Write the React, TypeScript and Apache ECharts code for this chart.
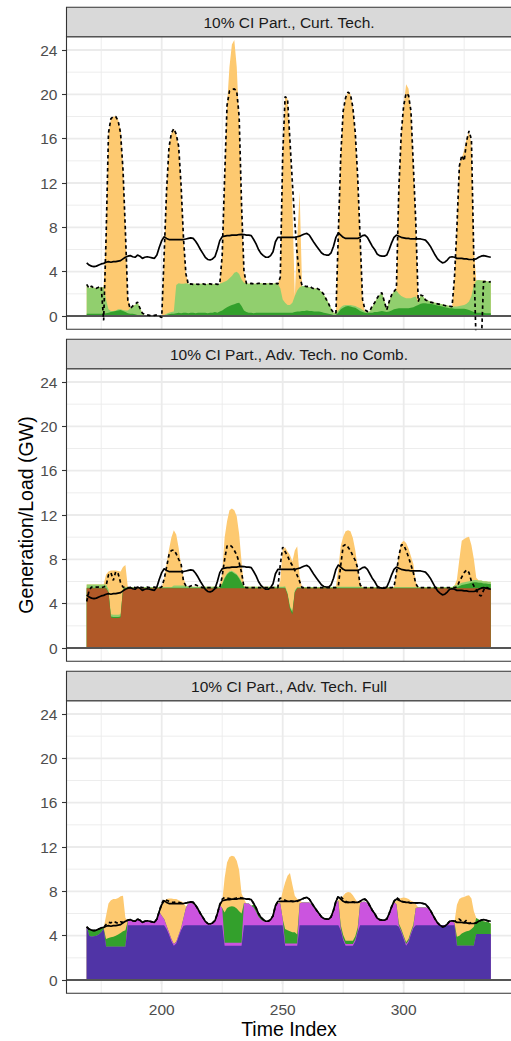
import React, { useEffect, useRef } from "react";
import * as echarts from "echarts";

// Time index: hourly steps 169..336 (one week)
const hours: number[] = Array.from({ length: 168 }, (_, i) => 169 + i);

// System load (GW), shared by all three scenarios
const load = [
  4.8, 4.6, 4.5, 4.45, 4.5, 4.6, 4.7, 4.75, 4.85, 4.9, 4.85, 4.9, 4.9, 4.95, 5.0, 5.15, 5.3, 5.4, 5.45, 5.35, 5.3, 5.5, 5.4, 5.2,
  5.3, 5.35, 5.3, 5.25, 5.2, 5.5, 6.2, 6.8, 7.15, 7.0, 6.9, 6.9, 6.9, 6.9, 6.9, 6.9, 6.9, 6.95, 7.0, 7.05, 7.0, 6.75, 6.4, 6.0,
  5.65, 5.3, 5.1, 5.05, 5.15, 5.35, 6.0, 6.8, 7.15, 7.2, 7.25, 7.25, 7.3, 7.3, 7.3, 7.35, 7.37, 7.35, 7.3, 7.3, 7.25, 6.9, 6.5, 6.0,
  5.65, 5.45, 5.3, 5.3, 5.45, 5.8, 6.7, 7.1, 7.1, 7.1, 7.1, 7.1, 7.1, 7.1, 7.1, 7.15, 7.2, 7.3, 7.4, 7.45, 7.3, 6.95, 6.6, 6.3,
  6.0, 5.7, 5.55, 5.5, 5.5, 5.7, 6.3, 7.1, 7.5, 7.3, 7.1, 7.0, 7.0, 7.0, 7.0, 7.0, 7.0, 7.1, 7.25, 7.3, 7.1, 6.7, 6.3, 6.0,
  5.6, 5.45, 5.4, 5.4, 5.5, 6.0, 6.6, 7.1, 7.3, 7.2, 7.1, 7.05, 7.0, 7.0, 6.95, 6.95, 6.95, 6.95, 6.95, 6.9, 6.85, 6.6, 6.3, 5.9,
  5.5, 5.15, 4.95, 4.8, 4.85, 5.05, 5.3, 5.35, 5.3, 5.2, 5.2, 5.2, 5.15, 5.15, 5.1, 5.1, 5.1, 5.15, 5.3, 5.4, 5.45, 5.4, 5.35, 5.3,
];

// ---- Scenario 1: Curt. Tech. ----
const curtHydro = [
  0.2, 0.2, 0.2, 0.2, 0.2, 0.2, 0.2, 0.2, 0.25, 0.3, 0.35, 0.4, 0.45, 0.5, 0.55, 0.45, 0.35, 0.25, 0.2, 0.2, 0.15, 0.1, 0.05, 0,
  0, 0, 0, 0, 0, 0, 0, 0, 0.05, 0.1, 0.15, 0.2, 0.2, 0.25, 0.3, 0.25, 0.3, 0.3, 0.25, 0.3, 0.3, 0.25, 0.3, 0.3,
  0.3, 0.3, 0.25, 0.3, 0.3, 0.35, 0.3, 0.4, 0.5, 0.65, 0.8, 0.9, 1.0, 1.05, 1.15, 1.2, 0.9, 0.5, 0.35, 0.3, 0.3, 0.25, 0.3, 0.3,
  0.3, 0.3, 0.3, 0.3, 0.3, 0.3, 0.3, 0.3, 0.3, 0.3, 0.3, 0.3, 0.3, 0.3, 0.35, 0.4, 0.4, 0.45, 0.45, 0.5, 0.45, 0.45, 0.4, 0.4,
  0.4, 0.35, 0.3, 0.25, 0.2, 0.15, 0.1, 0.1, 0.3, 0.6, 0.75, 0.85, 0.9, 0.85, 0.8, 0.75, 0.6, 0.45, 0.35, 0.3, 0.25, 0.3, 0.3, 0.35,
  0.35, 0.4, 0.45, 0.4, 0.35, 0.4, 0.5, 0.6, 0.65, 0.7, 0.7, 0.7, 0.7, 0.7, 0.75, 0.8, 0.9, 1.0, 1.1, 1.15, 1.15, 1.1, 1.1, 1.05,
  1.0, 0.95, 0.9, 0.85, 0.8, 0.75, 0.7, 0.7, 0.65, 0.65, 0.65, 0.65, 0.65, 0.6, 0.55, 0.45, 0.35, 0.3, 0.3, 0.3, 0.3, 0.25, 0.25, 0.25,
];
const curtWind = [
  2.6, 2.3, 2.45, 2.35, 2.3, 2.4, 2.4, 2.4, 1.25, 0.3, 0.1, 0.05, 0.05, 0.1, 0.05, 0.1, 0.15, 0.25, 0.5, 0.7, 0.85, 1.1, 0.75, 0.2,
  0.1, 0.05, 0, 0, 0, 0, 0, 0, 0.05, 0.1, 0.15, 0.15, 0.2, 2.55, 2.65, 2.65, 2.6, 2.65, 2.65, 2.55, 2.6, 2.65, 2.55, 2.6,
  2.6, 2.55, 2.65, 2.6, 2.55, 2.55, 2.55, 2.5, 2.5, 2.45, 2.4, 2.5, 2.6, 2.85, 2.85, 2.6, 2.4, 2.5, 2.6, 2.6, 2.65, 2.65, 2.6, 2.65,
  2.65, 2.6, 2.6, 2.65, 2.6, 2.6, 2.65, 2.6, 2.2, 1.2, 0.9, 0.7, 0.7, 0.9, 1.45, 1.9, 2.2, 2.25, 2.25, 2.15, 2.15, 2.1, 2.1, 2.05,
  1.95, 1.85, 1.6, 1.35, 0.95, 0.55, 0.2, 0.2, 0.2, 0.2, 0.2, 0.15, 0.1, 0.15, 0.15, 0.15, 0.2, 0.25, 0.2, 0.1, 0.1, 0.1, 0.5, 0.85,
  1.25, 1.5, 1.65, 1.0, 0.25, 0.9, 1.4, 1.6, 1.65, 1.3, 1.1, 1.0, 0.9, 0.9, 0.85, 0.9, 0.85, 0.2, 0.8, 0.6, 0.35, 0.3, 0.2, 0.2,
  0.2, 0.2, 0.2, 0.2, 0.2, 0.2, 0.2, 0.15, 0.2, 0.2, 0.25, 0.3, 0.35, 0.5, 0.75, 1.35, 2.45, 2.9, 2.95, 2.9, 2.9, 2.9, 2.85, 2.85,
];
const curtSolar = [
  0, 0, 0, 0, 0, 0, 0, 0, 6.0, 15.9, 17.35, 17.55, 17.5, 17.1, 16.2, 12.95, 7.3, 1.3, 0, 0, 0, 0, 0, 0,
  0, 0, 0, 0, 0, 0, 0, 0, 5.4, 11.1, 14.9, 16.15, 16.5, 13.6, 12.35, 8.9, 4.1, 0.85, 0, 0, 0, 0, 0, 0,
  0, 0, 0, 0, 0, 0, 0, 0, 2.5, 9.4, 15.8, 19.1, 20.9, 21.0, 18.5, 13.7, 6.7, 1.0, 0, 0, 0, 0, 0, 0,
  0, 0, 0, 0, 0, 0, 0, 0, 1.0, 13.0, 18.6, 18.6, 14.5, 8.8, 0, 4.7, 8.6, 0, 0, 0, 0, 0, 0, 0,
  0, 0, 0, 0, 0, 0, 0, 0, 7.0, 13.7, 17.55, 18.7, 19.2, 19.0, 17.85, 15.6, 11.7, 6.3, 0.95, 0, 0, 0, 0, 0,
  0, 0, 0, 0, 0, 0, 0, 0, 0.2, 9.5, 14.7, 17.3, 19.3, 18.9, 16.9, 11.8, 6.75, 0.1, 0, 0, 0, 0, 0, 0,
  0, 0, 0, 0, 0, 0, 0, 0, 2.65, 7.15, 12.9, 13.25, 14.0, 14.9, 15.3, 13.7, 3.2, 0, 0, 0, 0, 0, 0, 0,
];
const curtSupply = [
  2.85, 2.5, 2.7, 2.5, 2.5, 2.6, 2.65, -0.4, 7.0, 16.5, 17.8, 18.0, 18.0, 17.6, 16.5, 13.2, 7.6, 1.4, 0.65, 0.9, 1.05, 1.25, 0.7, 0.25,
  0.15, 0.1, 0.05, 0.1, 0.05, 0.1, 0.0, -0.15, 5.5, 11.3, 15.2, 16.5, 16.9, 16.4, 15.3, 11.8, 7.0, 3.8, 2.85, 2.9, 2.85, 2.9, 2.85, 2.9,
  2.9, 2.85, 2.9, 2.9, 2.85, 2.9, 2.85, 2.9, 5.5, 12.5, 19.0, 20.3, 20.4, 20.5, 20.3, 18.0, 10.0, 4.0, 2.95, 2.9, 2.95, 2.9, 2.9, 2.95,
  2.95, 2.9, 2.9, 2.95, 2.9, 2.9, 2.95, 2.9, 3.5, 14.5, 19.8, 19.6, 15.8, 12.0, 8.5, 5.5, 3.6, 2.75, 2.7, 2.65, 2.7, 2.55, 2.45, 2.5,
  2.4, 2.2, 1.95, 1.5, 1.1, 0.6, 0.3, 0.25, 7.5, 14.5, 18.5, 19.7, 20.2, 20.0, 18.8, 16.5, 12.5, 7.0, 1.5, 0.55, 0.4, 0.45, 0.9, 1.2,
  1.6, 1.95, 2.1, 1.3, 0.55, 1.3, 1.9, 2.2, 2.5, 11.5, 16.5, 19.0, 20.1, 19.9, 18.5, 13.5, 8.5, 1.3, 1.9, 1.8, 1.45, 1.35, 1.25, 1.2,
  1.15, 1.1, 1.05, 1.0, 0.95, 0.9, 0.88, 0.85, 3.5, 8.0, 13.5, 14.5, 14.0, 15.8, 16.7, 15.9, 5.0, -3, -3, -3, 3.1, 3.1, 3.05, 3.1,
];

// ---- Scenario 2: Adv. Tech. no Comb. ----
const noCombBase = [
  5.38, 5.38, 5.38, 5.38, 5.38, 5.38, 5.38, 5.38, 5.38, 5.0, 2.75, 2.7, 2.7, 2.7, 2.75, 5.3, 5.38, 5.38, 5.38, 5.38, 5.38, 5.38, 5.38, 5.38,
  5.38, 5.38, 5.38, 5.38, 5.38, 5.38, 5.38, 5.38, 5.38, 5.38, 5.38, 5.38, 5.38, 5.38, 5.38, 5.38, 5.38, 5.38, 5.38, 5.38, 5.38, 5.38, 5.38, 5.38,
  5.38, 5.38, 5.38, 5.38, 5.38, 5.38, 5.38, 5.38, 5.38, 5.38, 5.38, 5.38, 5.38, 5.38, 5.38, 5.38, 5.38, 5.38, 5.38, 5.38, 5.38, 5.38, 5.38, 5.38,
  5.38, 5.38, 5.38, 5.38, 5.38, 5.38, 5.38, 5.38, 5.38, 5.38, 5.38, 4.8, 3.5, 3.0, 5.0, 5.38, 5.38, 5.38, 5.38, 5.38, 5.38, 5.38, 5.38, 5.38,
  5.38, 5.38, 5.38, 5.38, 5.38, 5.38, 5.38, 5.38, 5.38, 5.38, 5.38, 5.38, 5.38, 5.38, 5.38, 5.38, 5.38, 5.38, 5.38, 5.38, 5.38, 5.38, 5.38, 5.38,
  5.38, 5.38, 5.38, 5.38, 5.38, 5.38, 5.38, 5.38, 5.38, 5.38, 5.38, 5.38, 5.38, 5.38, 5.38, 5.38, 5.38, 5.38, 5.38, 5.38, 5.38, 5.38, 5.38, 5.38,
  5.38, 5.38, 5.38, 5.38, 5.38, 5.38, 5.38, 5.38, 5.38, 5.38, 5.38, 5.38, 5.38, 5.38, 5.38, 5.38, 5.38, 5.38, 5.38, 5.38, 5.38, 5.38, 5.38, 5.38,
];
const noCombHydro = [
  0.05, 0.05, 0.05, 0.05, 0.05, 0.05, 0.05, 0.05, 0.05, 0.05, 0.1, 0.1, 0.1, 0.1, 0.1, 0.05, 0.05, 0.05, 0.05, 0.05, 0.05, 0.05, 0.05, 0.05,
  0.05, 0.05, 0.05, 0.05, 0.05, 0.05, 0.05, 0.05, 0.05, 0.05, 0.05, 0.05, 0.05, 0.05, 0.05, 0.05, 0.05, 0.05, 0.05, 0.05, 0.05, 0.05, 0.05, 0.05,
  0.05, 0.05, 0.05, 0.05, 0.05, 0.05, 0.05, 0.05, 0.35, 0.9, 1.25, 1.45, 1.5, 1.35, 1.2, 0.9, 0.5, 0.1, 0.05, 0.05, 0.05, 0.05, 0.05, 0.05,
  0.05, 0.05, 0.05, 0.05, 0.05, 0.05, 0.05, 0.05, 0.05, 0.05, 0.05, 0.05, 0.15, 0.2, 0.05, 0.05, 0.05, 0.05, 0.05, 0.05, 0.05, 0.05, 0.05, 0.05,
  0.05, 0.05, 0.05, 0.05, 0.05, 0.05, 0.05, 0.05, 0.05, 0.05, 0.05, 0.05, 0.05, 0.05, 0.05, 0.05, 0.05, 0.05, 0.05, 0.05, 0.05, 0.05, 0.05, 0.05,
  0.05, 0.05, 0.05, 0.05, 0.05, 0.05, 0.05, 0.05, 0.05, 0.05, 0.05, 0.05, 0.05, 0.05, 0.05, 0.05, 0.05, 0.05, 0.05, 0.05, 0.05, 0.05, 0.05, 0.05,
  0.05, 0.05, 0.05, 0.05, 0.05, 0.05, 0.05, 0.05, 0.05, 0.1, 0.2, 0.3, 0.35, 0.4, 0.45, 0.5, 0.55, 0.55, 0.5, 0.5, 0.45, 0.45, 0.4, 0.4,
];
const noCombWind = [
  0.3, 0.3, 0.3, 0.3, 0.3, 0.3, 0.3, 0.3, 0.3, 0.25, 0.2, 0.2, 0.2, 0.2, 0.2, 0.05, 0.05, 0.05, 0.05, 0.05, 0.05, 0.05, 0.05, 0.05,
  0.05, 0.05, 0.05, 0.05, 0.05, 0.05, 0.05, 0.05, 0.05, 0.05, 0.05, 0.05, 0.2, 0.2, 0.2, 0.2, 0.2, 0.2, 0.1, 0.1, 0.1, 0.1, 0.1, 0.1,
  0.1, 0.1, 0.1, 0.1, 0.1, 0.1, 0.1, 0.1, 0.1, 0.1, 0.1, 0.1, 0.1, 0.1, 0.1, 0.1, 0.1, 0.1, 0.1, 0.1, 0.1, 0.1, 0.1, 0.1,
  0.1, 0.1, 0.1, 0.1, 0.1, 0.1, 0.1, 0.1, 0.1, 0.1, 0.15, 0.15, 0.15, 0.15, 0.15, 0.05, 0.05, 0.05, 0.05, 0.05, 0.05, 0.05, 0.05, 0.05,
  0.05, 0.05, 0.05, 0.05, 0.05, 0.05, 0.1, 0.1, 0.1, 0.1, 0.1, 0.1, 0.1, 0.1, 0.1, 0.1, 0.1, 0.1, 0.05, 0.05, 0.05, 0.05, 0.05, 0.05,
  0.05, 0.05, 0.05, 0.05, 0.05, 0.05, 0.05, 0.05, 0.05, 0.05, 0.05, 0.05, 0.05, 0.05, 0.05, 0.05, 0.05, 0.05, 0.05, 0.05, 0.05, 0.05, 0.05, 0.05,
  0.05, 0.05, 0.05, 0.05, 0.05, 0.05, 0.05, 0.05, 0.2, 0.2, 0.2, 0.2, 0.2, 0.2, 0.2, 0.2, 0.2, 0.2, 0.2, 0.2, 0.2, 0.2, 0.2, 0.2,
];
const noCombSolar = [
  0, 0, 0, 0, 0, 0, 0, 0, 0.9, 1.6, 3.95, 4.0, 4.0, 3.95, 3.85, 1.9, 2.0, 0, 0, 0, 0, 0, 0, 0,
  0, 0, 0, 0, 0, 0, 0, 0, 0.8, 2.1, 3.4, 4.5, 5.0, 4.6, 3.4, 1.9, 0.7, 0, 0, 0, 0, 0, 0, 0,
  0, 0, 0, 0, 0, 0, 0, 0, 1.0, 3.6, 4.7, 5.5, 5.6, 5.6, 5.2, 3.9, 1.8, 0, 0, 0, 0, 0, 0, 0,
  0, 0, 0, 0, 0, 0, 0, 0, 0.5, 3.4, 3.5, 3.7, 4.6, 4.45, 3.6, 3.7, 1.0, 0, 0, 0, 0, 0, 0, 0,
  0, 0, 0, 0, 0, 0, 0, 0, 1.7, 3.7, 4.5, 5.0, 5.1, 5.0, 4.4, 3.3, 1.7, 0.3, 0, 0, 0, 0, 0, 0,
  0, 0, 0, 0, 0, 0, 0, 0, 1.5, 3.0, 4.0, 4.2, 4.0, 3.5, 2.8, 2.1, 0.5, 0, 0, 0, 0, 0, 0, 0,
  0, 0, 0, 0, 0, 0, 0, 0, 0, 0.5, 2.2, 3.8, 3.9, 4.0, 4.0, 3.2, 1.9, 0.2, 0, 0, 0, 0, 0, 0,
];
const noCombSupply = [
  4.2, 5.2, 5.5, 5.45, 5.5, 5.5, 5.45, 5.5, 5.6, 6.6, 6.8, 6.1, 6.9, 6.7, 5.9, 5.5, 5.45, 5.45, 5.45, 5.5, 5.45, 5.45, 5.5, 5.45,
  5.45, 5.5, 5.45, 5.45, 5.5, 5.45, 5.45, 5.5, 6.2, 7.3, 8.4, 8.8, 8.85, 8.5, 8.0, 7.6, 6.0, 5.6, 5.5, 5.6, 5.7, 5.7, 5.6, 5.5,
  5.45, 5.45, 5.45, 5.45, 5.45, 5.45, 5.45, 5.45, 6.5, 8.0, 9.2, 9.3, 9.15, 8.8, 8.4, 7.7, 6.8, 5.5, 5.45, 5.45, 5.45, 5.45, 5.45, 5.45,
  5.45, 5.45, 5.45, 5.45, 5.45, 5.45, 5.45, 5.45, 7.5, 9.1, 8.7, 8.3, 7.8, 7.45, 7.0, 6.55, 6.0, 5.45, 5.45, 5.45, 5.45, 5.45, 5.45, 5.45,
  5.45, 5.45, 5.45, 5.45, 5.45, 5.45, 5.45, 5.45, 5.6, 7.5, 9.2, 9.35, 9.1, 8.8, 8.3, 7.9, 7.2, 5.7, 5.45, 5.45, 5.45, 5.45, 5.45, 5.45,
  5.45, 5.45, 5.45, 5.45, 5.45, 5.45, 5.45, 5.5, 6.8, 8.3, 9.3, 9.3, 8.8, 8.2, 7.5, 6.8, 5.8, 5.45, 5.45, 5.45, 5.45, 5.45, 5.45, 5.45,
  5.45, 5.45, 5.45, 5.45, 5.45, 5.45, 5.45, 5.45, 5.45, 5.5, 6.0, 6.4, 6.8, 7.05, 6.8, 6.0, 5.6, 5.25, 4.8, 4.7, 5.2, 5.5, 5.4, 5.25,
];

// ---- Scenario 3: Adv. Tech. Full ----
const fullBase = [
  4.85, 4.0, 3.9, 3.95, 4.0, 4.1, 4.3, 4.6, 3.0, 3.0, 3.0, 3.0, 3.0, 3.0, 3.0, 3.0, 3.0, 4.95, 4.95, 4.95, 4.95, 4.95, 4.95, 4.95,
  4.95, 4.95, 4.95, 4.95, 4.95, 4.95, 4.95, 4.95, 4.95, 4.6, 4.1, 3.5, 3.1, 3.3, 3.9, 4.5, 4.9, 4.95, 4.95, 4.95, 4.95, 4.95, 4.95, 4.95,
  4.95, 4.95, 4.95, 4.95, 4.95, 4.95, 4.95, 4.95, 4.95, 3.1, 3.1, 3.1, 3.1, 3.1, 3.1, 3.1, 3.1, 4.95, 4.95, 4.95, 4.95, 4.95, 4.95, 4.95,
  4.95, 4.95, 4.95, 4.95, 4.95, 4.95, 4.95, 4.95, 4.95, 4.95, 3.1, 3.1, 3.1, 3.1, 3.1, 3.1, 4.95, 4.95, 4.95, 4.95, 4.95, 4.95, 4.95, 4.95,
  4.95, 4.95, 4.95, 4.95, 4.95, 4.95, 4.95, 4.95, 4.95, 4.5, 3.6, 3.1, 3.1, 3.1, 3.1, 3.5, 4.3, 4.95, 4.95, 4.95, 4.95, 4.95, 4.95, 4.95,
  4.95, 4.95, 4.95, 4.95, 4.95, 4.95, 4.95, 4.95, 4.95, 4.8, 4.3, 3.7, 3.1, 3.4, 4.1, 4.7, 4.95, 4.95, 4.95, 4.95, 4.95, 4.95, 4.95, 4.95,
  4.95, 4.95, 4.95, 4.95, 4.95, 4.95, 4.95, 4.95, 4.95, 3.1, 3.1, 3.1, 3.1, 3.1, 3.1, 3.1, 3.1, 4.15, 4.15, 4.15, 4.15, 4.15, 4.15, 4.15,
];
const fullFlex = [
  0, 0, 0, 0, 0, 0, 0, 0, 0, 0, 0, 0, 0, 0, 0, 0, 0, 0.4, 0.45, 0.35, 0.3, 0.5, 0.4, 0.2,
  0.3, 0.35, 0.3, 0.25, 0.2, 0.5, 1.2, 0.85, 0.55, 0.3, 0.2, 0.2, 0.15, 0.15, 0.15, 0.2, 0.7, 1.55, 1.95, 2.0, 1.95, 1.7, 1.35, 0.95,
  0.65, 0.3, 0.1, 0.05, 0.15, 0.35, 1.0, 1.8, 1.55, 0.25, 0.25, 0.25, 0.25, 0.25, 0.25, 0.25, 0.25, 2.0, 1.95, 1.95, 1.75, 1.6, 1.2, 0.75,
  0.5, 0.35, 0.3, 0.3, 0.45, 0.8, 1.7, 2.0, 1.95, 0.55, 0.2, 0.2, 0.2, 0.2, 0.2, 0.2, 1.95, 2.05, 2.05, 2.05, 2.05, 1.85, 1.55, 1.25,
  1.0, 0.7, 0.55, 0.5, 0.5, 0.7, 1.3, 2.05, 2.2, 0.15, 0.15, 0.15, 0.15, 0.15, 0.15, 0.15, 0.15, 2.0, 2.1, 2.1, 2.0, 1.65, 1.25, 0.95,
  0.6, 0.45, 0.4, 0.4, 0.5, 1.0, 1.6, 2.05, 1.9, 0.15, 0.15, 0.15, 0.15, 0.15, 0.15, 0.15, 1.55, 1.6, 1.6, 1.6, 1.6, 1.55, 1.25, 0.85,
  0.45, 0.15, 0, 0, 0, 0.05, 0.3, 0.35, 0.2, 0, 0, 0, 0, 0, 0, 0, 0, 0, 0, 0, 0, 0, 0, 0,
];
const fullHydro = [
  0, 0.55, 0.55, 0.45, 0.45, 0.45, 0.35, 0.1, 0.7, 0.8, 0.85, 0.9, 1.0, 1.1, 1.25, 1.4, 1.5, 0, 0, 0, 0, 0, 0, 0,
  0, 0, 0, 0, 0, 0, 0, 0, 0, 0, 0, 0, 0, 0, 0, 0, 0, 0, 0, 0, 0, 0, 0, 0,
  0, 0, 0, 0, 0, 0, 0, 0, 0, 2.75, 3.15, 3.25, 3.3, 3.25, 3.1, 2.85, 2.65, 0, 0, 0, 0, 0.25, 0.25, 0.2,
  0.15, 0.1, 0, 0, 0, 0, 0, 0, 0, 0, 1.3, 1.2, 1.1, 1.0, 1.0, 0.8, 0, 0, 0, 0, 0, 0, 0, 0,
  0, 0, 0, 0, 0, 0, 0, 0, 0, 0.3, 0.3, 0.3, 0.3, 0.3, 0.3, 0.3, 0.3, 0, 0, 0, 0, 0, 0, 0,
  0, 0, 0, 0, 0, 0, 0, 0, 0, 0.15, 0.15, 0.15, 0.15, 0.15, 0.15, 0.15, 0, 0, 0, 0, 0, 0, 0, 0,
  0, 0, 0, 0, 0, 0, 0, 0, 0, 0.8, 0.9, 1.1, 1.2, 1.3, 1.35, 1.5, 1.7, 1.45, 1.3, 1.2, 1.15, 1.1, 1.05, 0.95,
];
const fullSolar = [
  0, 0, 0, 0, 0, 0, 0, 0, 2.1, 3.1, 3.35, 3.4, 3.3, 3.3, 3.3, 3.2, 1.1, 0, 0, 0, 0, 0, 0, 0,
  0, 0, 0, 0, 0, 0, 0, 1.0, 1.65, 2.4, 3.05, 3.65, 4.05, 3.85, 3.15, 2.4, 1.4, 0.1, 0, 0, 0, 0, 0, 0,
  0, 0, 0, 0, 0, 0, 0, 0, 0.6, 3.1, 4.1, 4.5, 4.55, 4.55, 4.3, 3.7, 1.8, 0.35, 0, 0, 0, 0, 0, 0,
  0, 0, 0, 0, 0, 0, 0, 0, 0.15, 2.5, 4.2, 4.9, 5.25, 4.3, 3.3, 3.2, 0.3, 0, 0, 0, 0, 0, 0, 0,
  0, 0, 0, 0, 0, 0, 0, 0, 0.1, 2.4, 3.55, 4.3, 4.4, 4.35, 4.1, 3.35, 2.25, 0.1, 0, 0, 0, 0, 0, 0,
  0, 0, 0, 0, 0, 0, 0, 0, 0.3, 2.2, 2.8, 3.45, 4.0, 3.6, 2.75, 2.05, 0.35, 0, 0, 0, 0, 0, 0, 0,
  0, 0, 0, 0, 0, 0, 0, 0, 0.1, 2.9, 3.3, 3.25, 3.2, 3.2, 3.2, 2.75, 1.4, 0, 0, 0, 0, 0, 0, 0,
];
const fullSupply = [
  4.8, 4.6, 4.5, 4.45, 4.5, 4.6, 4.7, 4.75, 5.0, 5.2, 5.15, 5.3, 5.2, 5.1, 5.25, 5.2, 5.3, 5.4, 5.45, 5.35, 5.3, 5.5, 5.4, 5.2,
  5.3, 5.35, 5.3, 5.25, 5.2, 5.5, 6.2, 6.9, 7.3, 7.2, 7.1, 7.0, 7.0, 7.05, 7.0, 6.95, 6.9, 6.95, 7.0, 7.05, 7.0, 6.75, 6.4, 6.0,
  5.65, 5.3, 5.1, 5.05, 5.15, 5.35, 6.0, 6.8, 7.3, 7.45, 7.4, 7.35, 7.3, 7.35, 7.4, 7.45, 7.4, 7.35, 7.3, 7.3, 7.25, 6.9, 6.5, 6.0,
  5.65, 5.45, 5.3, 5.3, 5.45, 5.8, 6.7, 7.1, 7.4, 7.3, 7.2, 7.1, 7.15, 7.1, 7.05, 7.1, 7.2, 7.3, 7.4, 7.45, 7.3, 6.95, 6.6, 6.3,
  6.0, 5.7, 5.55, 5.5, 5.5, 5.7, 6.3, 7.1, 7.6, 7.5, 7.3, 7.1, 7.0, 7.0, 7.05, 7.0, 7.0, 7.1, 7.25, 7.3, 7.1, 6.7, 6.3, 6.0,
  5.6, 5.45, 5.4, 5.4, 5.5, 6.0, 6.6, 7.1, 7.45, 7.3, 7.1, 7.05, 7.0, 7.0, 6.95, 6.95, 6.95, 6.95, 6.95, 6.9, 6.85, 6.6, 6.3, 5.9,
  5.5, 5.15, 4.95, 4.8, 4.85, 5.05, 5.3, 5.35, 5.3, 5.35, 5.5, 5.3, 5.2, 5.4, 5.1, 5.2, 5.1, 5.15, 5.3, 5.4, 5.45, 5.4, 5.3, 5.2,
];

const panelTitles = [
  "10% CI Part., Curt. Tech.",
  "10% CI Part., Adv. Tech. no Comb.",
  "10% CI Part., Adv. Tech. Full",
];
const yTicks = [0, 4, 8, 12, 16, 20, 24];
const yMinor = [2, 6, 10, 14, 18, 22];
const xTicks = [200, 250, 300];
const xMinor = [175, 225, 275, 325];

const COLORS = {
  solar: "#FDC970",
  wind: "#91CF6E",
  hydro: "#33A02C",
  brown: "#B15928",
  purple: "#5034A6",
  magenta: "#CB54DF",
};

const FONT = "'Liberation Sans', Arial, Helvetica, sans-serif";
const X_MIN = 160.65;
const X_MAX = 344.35;
const Y_MIN = -1.2;
const Y_MAX = 25.2;
const GRID_LEFT = 66.5;
const GRID_WIDTH = 445.5;
const GRID_HEIGHT = 292.6;
const GRID_TOPS = [36.7, 368.7, 700.7];
const STRIP_H = 29.4;

const pairs = (values: number[]) => hours.map((h, i) => [h, values[i]]);

const panels = [
  {
    layers: [
      { name: "hydro", values: curtHydro, color: COLORS.hydro },
      { name: "wind", values: curtWind, color: COLORS.wind },
      { name: "solar", values: curtSolar, color: COLORS.solar },
    ],
    supply: curtSupply,
  },
  {
    layers: [
      { name: "base", values: noCombBase, color: COLORS.brown },
      { name: "hydro", values: noCombHydro, color: COLORS.hydro },
      { name: "wind", values: noCombWind, color: COLORS.wind },
      { name: "solar", values: noCombSolar, color: COLORS.solar },
    ],
    supply: noCombSupply,
  },
  {
    layers: [
      { name: "base", values: fullBase, color: COLORS.purple },
      { name: "flex", values: fullFlex, color: COLORS.magenta },
      { name: "hydro", values: fullHydro, color: COLORS.hydro },
      { name: "solar", values: fullSolar, color: COLORS.solar },
    ],
    supply: fullSupply,
  },
];

// Running totals of the generation layers: the top edge of each stacked band
function cumulativeTops(layers: { values: number[] }[]) {
  const tops: number[][] = [];
  let acc = hours.map(() => 0);
  layers.forEach((layer) => {
    acc = acc.map((v, k) => v + layer.values[k]);
    tops.push(acc);
  });
  return tops;
}

function gridLines(i: number, values: number[], vertical: boolean, width: number, color: string, z: number) {
  return {
    type: "custom",
    xAxisIndex: i,
    yAxisIndex: i,
    z,
    silent: true,
    data: values.map((v) => (vertical ? [v, 0] : [X_MIN, v])),
    renderItem: (_p: any, api: any) => {
      const v = vertical ? api.value(0) : api.value(1);
      const a = vertical ? api.coord([v, Y_MIN]) : api.coord([X_MIN, v]);
      const b = vertical ? api.coord([v, Y_MAX]) : api.coord([X_MAX, v]);
      return {
        type: "line",
        shape: { x1: a[0], y1: a[1], x2: b[0], y2: b[1] },
        style: { stroke: color, lineWidth: width },
      };
    },
  };
}

export default function App() {
  const ref = useRef<HTMLDivElement>(null);

  useEffect(() => {
    if (!ref.current) return;
    const chart = echarts.init(ref.current, null, { renderer: "svg" });

    const grids = GRID_TOPS.map((top) => ({
      left: GRID_LEFT,
      top,
      width: GRID_WIDTH,
      height: GRID_HEIGHT,
      show: false,
    }));

    const xAxes = GRID_TOPS.map((_, i) => {
      const bottom = i === GRID_TOPS.length - 1;
      return {
        gridIndex: i,
        type: "value",
        min: X_MIN,
        max: X_MAX,
        axisLine: { show: false },
        splitLine: { show: false },
        axisTick: {
          show: bottom,
          customValues: xTicks,
          length: 4.5,
          lineStyle: { color: "#333333", width: 1.1 },
        },
        axisLabel: {
          show: bottom,
          customValues: xTicks,
          color: "#4D4D4D",
          fontSize: 15.5,
          fontFamily: FONT,
          margin: 8,
        },
      };
    });

    const yAxes = GRID_TOPS.map((_, i) => ({
      gridIndex: i,
      type: "value",
      min: Y_MIN,
      max: Y_MAX,
      axisLine: { show: false },
      splitLine: { show: false },
      axisTick: {
        show: true,
        customValues: yTicks,
        length: 4.5,
        lineStyle: { color: "#333333", width: 1.1 },
      },
      axisLabel: {
        customValues: yTicks,
        color: "#4D4D4D",
        fontSize: 15.5,
        fontFamily: FONT,
        margin: 9,
      },
    }));

    const series: any[] = [];
    panels.forEach((panel, i) => {
      series.push(gridLines(i, xMinor, true, 0.9, "#EBEBEB", 1));
      series.push(gridLines(i, yMinor, false, 0.9, "#EBEBEB", 1));
      series.push(gridLines(i, xTicks, true, 1.8, "#EBEBEB", 1));
      series.push(gridLines(i, yTicks, false, 1.8, "#EBEBEB", 1));

      // Bands are painted from the top layer down, each filled to zero,
      // so every band shows between its own top and the one below it.
      const tops = cumulativeTops(panel.layers);
      for (let j = panel.layers.length - 1; j >= 0; j--) {
        const layer = panel.layers[j];
        series.push({
          name: layer.name,
          type: "line",
          xAxisIndex: i,
          yAxisIndex: i,
          data: pairs(tops[j]),
          symbol: "none",
          silent: true,
          z: 2,
          lineStyle: { width: 0, opacity: 0 },
          itemStyle: { color: layer.color },
          areaStyle: { color: layer.color, opacity: 1, origin: 0 },
        });
      }

      series.push(gridLines(i, [0], false, 1.8, "#555555", 3));

      series.push({
        name: "load",
        type: "line",
        xAxisIndex: i,
        yAxisIndex: i,
        data: pairs(load),
        symbol: "none",
        silent: true,
        z: 4,
        lineStyle: { color: "#000000", width: 1.7 },
      });
      series.push({
        name: "supply",
        type: "line",
        xAxisIndex: i,
        yAxisIndex: i,
        data: pairs(panel.supply),
        symbol: "none",
        silent: true,
        z: 5,
        lineStyle: { color: "#000000", width: 1.7, type: [3.5, 3] },
      });
    });

    const graphic: any[] = [];
    GRID_TOPS.forEach((top, i) => {
      graphic.push({
        type: "rect",
        z: 100,
        shape: { x: GRID_LEFT, y: top, width: GRID_WIDTH, height: GRID_HEIGHT },
        style: { fill: "none", stroke: "#333333", lineWidth: 1.1 },
        silent: true,
      });
      graphic.push({
        type: "rect",
        z: 100,
        shape: { x: GRID_LEFT, y: top - STRIP_H, width: GRID_WIDTH, height: STRIP_H },
        style: { fill: "#D9D9D9", stroke: "#333333", lineWidth: 1.1 },
        silent: true,
      });
      graphic.push({
        type: "text",
        z: 101,
        x: 289,
        y: top - STRIP_H / 2,
        style: {
          text: panelTitles[i],
          fontSize: 15.5,
          fontFamily: FONT,
          fill: "#1A1A1A",
          align: "center",
          verticalAlign: "middle",
        },
        silent: true,
      });
    });
    graphic.push({
      type: "text",
      z: 101,
      x: 26,
      y: 515,
      rotation: Math.PI / 2,
      style: {
        text: "Generation/Load (GW)",
        fontSize: 19.5,
        fontFamily: FONT,
        fill: "#000000",
        align: "center",
        verticalAlign: "middle",
      },
      silent: true,
    });
    graphic.push({
      type: "text",
      z: 101,
      x: 289,
      y: 1029,
      style: {
        text: "Time Index",
        fontSize: 19.5,
        fontFamily: FONT,
        fill: "#000000",
        align: "center",
        verticalAlign: "middle",
      },
      silent: true,
    });

    chart.setOption({
      animation: false,
      backgroundColor: "#FFFFFF",
      grid: grids,
      xAxis: xAxes,
      yAxis: yAxes,
      series,
      graphic,
    });

    return () => chart.dispose();
  }, []);

  return (
    <div
      ref={ref}
      style={{ position: "fixed", left: 0, top: 0, width: 511, height: 1041, background: "#FFFFFF" }}
    />
  );
}
